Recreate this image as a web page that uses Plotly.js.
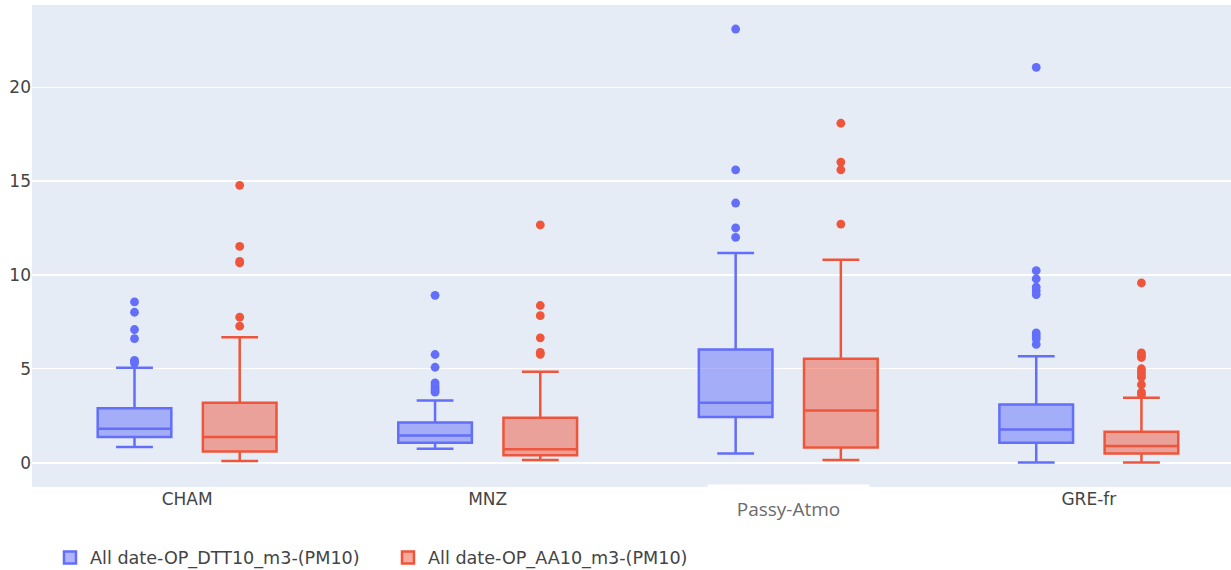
<!DOCTYPE html>
<html>
<head>
<meta charset="utf-8">
<script src="https://cdn.plot.ly/plotly-3.0.1.min.js"></script>
<style>html,body{margin:0;padding:0;background:#fff;}#chart{width:1231px;height:570px;}</style>
</head>
<body>
<div id="chart"></div>
<script>
// Categories (stations)
var categories = ["CHAM", "MNZ", "Passy-Atmo", "GRE-fr"];
var tickLabels = ["CHAM", "MNZ", "", "GRE-fr"];

// Series 1: All date-OP_DTT10_m3-(PM10)
var dttName = "All date-OP_DTT10_m3-(PM10)";
var dttLowerFence = [0.83, 0.74, 0.49, 0.0];
var dttQ1        = [1.36, 1.06, 2.43, 1.06];
var dttMedian    = [1.81, 1.45, 3.19, 1.77];
var dttQ3        = [2.89, 2.13, 6.03, 3.10];
var dttUpperFence = [5.05, 3.31, 11.17, 5.67];
var dttOutliers = [
  [8.56, 8.01, 7.09, 6.60, 5.45, 5.38, 5.30],
  [8.91, 5.76, 5.08, 4.25, 4.10, 3.97, 3.85, 3.75],
  [23.1, 15.6, 13.83, 12.5, 12.0],
  [21.06, 10.23, 9.79, 9.35, 9.15, 8.95, 6.91, 6.75, 6.60, 6.30]
];

// Series 2: All date-OP_AA10_m3-(PM10)
var aaName = "All date-OP_AA10_m3-(PM10)";
var aaLowerFence = [0.085, 0.14, 0.14, 0.0];
var aaQ1        = [0.585, 0.39, 0.80, 0.48];
var aaMedian    = [1.36, 0.71, 2.78, 0.88];
var aaQ3        = [3.19, 2.39, 5.53, 1.65];
var aaUpperFence = [6.68, 4.84, 10.81, 3.46];
var aaOutliers = [
  [14.77, 11.52, 10.72, 10.64, 7.75, 7.27],
  [12.66, 8.37, 7.83, 6.65, 5.87, 5.77],
  [18.08, 16.01, 15.6, 12.71],
  [9.57, 5.85, 5.72, 5.60, 5.00, 4.85, 4.70, 4.55, 4.15, 3.75, 3.62]
];

function boxTrace(name, color, lf, q1, med, q3, uf, pts) {
  return {
    type: "box",
    name: name,
    x: categories,
    y: pts,
    lowerfence: lf,
    q1: q1,
    median: med,
    q3: q3,
    upperfence: uf,
    boxpoints: "outliers",
    jitter: 0,
    pointpos: 0,
    marker: {color: color, size: 8.8},
    line: {color: color, width: 2.5}
  };
}

var data = [
  boxTrace(dttName, "#636efa", dttLowerFence, dttQ1, dttMedian, dttQ3, dttUpperFence, dttOutliers),
  boxTrace(aaName, "#EF553B", aaLowerFence, aaQ1, aaMedian, aaQ3, aaUpperFence, aaOutliers)
];

var layout = {
  width: 1231,
  height: 570,
  margin: {l: 32, r: 0, t: 5, b: 83, autoexpand: false},
  paper_bgcolor: "#ffffff",
  plot_bgcolor: "#E5ECF6",
  boxmode: "group",
  font: {family: "DejaVu Sans, Verdana, sans-serif", size: 17, color: "#444"},
  xaxis: {
    type: "category",
    range: [-0.516, 3.473],
    tickvals: categories,
    ticktext: tickLabels,
    showgrid: false,
    zeroline: false,
    ticks: "",
    automargin: false,
    tickfont: {size: 17, color: "#444"}
  },
  yaxis: {
    range: [-1.3, 24.38],
    dtick: 5,
    gridcolor: "#ffffff",
    gridwidth: 1.3,
    zeroline: true,
    zerolinecolor: "#ffffff",
    zerolinewidth: 2,
    ticks: "",
    automargin: false,
    tickfont: {size: 17, color: "#444"}
  },
  showlegend: true,
  legend: {
    orientation: "h",
    x: 0.015,
    xanchor: "left",
    yref: "container",
    y: 0.022,
    yanchor: "middle",
    entrywidth: 293,
    entrywidthmode: "pixels",
    font: {size: 17.6, color: "#444"},
    bgcolor: "rgba(0,0,0,0)"
  },
  annotations: [{
    x: "Passy-Atmo",
    xref: "x",
    y: 0.007,
    yref: "paper",
    yanchor: "top",
    xanchor: "center",
    text: "Passy-Atmo",
    showarrow: false,
    bgcolor: "#ffffff",
    width: 159,
    height: 46,
    valign: "middle",
    font: {family: "Open Sans, Noto Sans, sans-serif", size: 19, color: "#6b6b6b"}
  }]
};

Plotly.newPlot("chart", data, layout, {displayModeBar: false, staticPlot: true});
</script>
</body>
</html>
